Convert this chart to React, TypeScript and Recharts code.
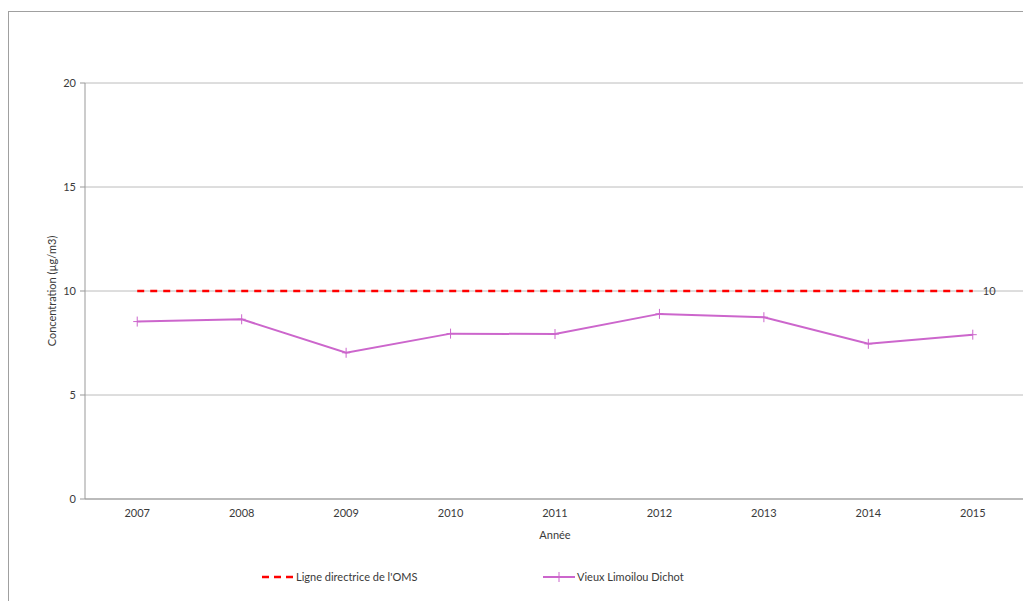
import { LineChart, Line, XAxis, YAxis, CartesianGrid, Legend, LabelList } from 'recharts';

const years = ['2007', '2008', '2009', '2010', '2011', '2012', '2013', '2014', '2015'];
const omsGuideline = [10, 10, 10, 10, 10, 10, 10, 10, 10];
const limoilou = [8.53, 8.64, 7.03, 7.95, 7.93, 8.9, 8.74, 7.46, 7.9];
const yTicks = [0, 5, 10, 15, 20];

// each year sits in the middle of its band; band edges carry the tick marks
const chartData = years.map((year, i) => ({
  year,
  pos: i + 0.5,
  oms: omsGuideline[i],
  limoilou: limoilou[i],
}));
const labelTicks = chartData.map((d) => d.pos);
const edgeTicks = [0, ...chartData.map((d) => d.pos + 0.5)];

const FONT = 'Lato, "Open Sans", sans-serif';
const TEXT = '#3a3a3a';
const PURPLE = '#cc66cc';
const RED = '#ff0000';

const PlusDot = (props: any) => {
  const { cx, cy, index } = props;
  if (cx == null || cy == null) return <g key={index} />;
  return (
    <g key={index}>
      <line x1={cx - 4} y1={cy} x2={cx + 4} y2={cy} stroke={PURPLE} strokeWidth={1} />
      <line x1={cx} y1={cy - 5} x2={cx} y2={cy + 5} stroke={PURPLE} strokeWidth={1} />
    </g>
  );
};

const EmptyTick = () => <g />;

const yearLabel = (v: number) => {
  const d = chartData.find((c) => c.pos === v);
  return d ? d.year : '';
};

const EndLabel = (props: any) => {
  const { x, y, value, index } = props;
  if (index !== chartData.length - 1) return null;
  return (
    <text x={x + 10} y={y} dy={4} fontSize={11} fill={TEXT} fontFamily={FONT}>
      {value}
    </text>
  );
};

const renderLegend = () => (
  <div style={{ display: 'flex', fontFamily: FONT, fontSize: 11, color: TEXT, alignItems: 'center' }}>
    <div style={{ width: 281, display: 'flex', alignItems: 'center' }}>
      <svg width={32} height={10}>
        <line x1={0} y1={5} x2={32} y2={5} stroke={RED} strokeWidth={2.5} strokeDasharray="7 5" />
      </svg>
      <span style={{ marginLeft: 2 }}>Ligne directrice de l'OMS</span>
    </div>
    <div style={{ display: 'flex', alignItems: 'center' }}>
      <svg width={32} height={10}>
        <line x1={0} y1={5} x2={32} y2={5} stroke={PURPLE} strokeWidth={2} />
        <line x1={16} y1={0} x2={16} y2={10} stroke={PURPLE} strokeWidth={1} />
      </svg>
      <span style={{ marginLeft: 2 }}>Vieux Limoilou Dichot</span>
    </div>
  </div>
);

export default function App() {
  return (
    <div style={{ position: 'fixed', left: 0, top: 0, width: 1023, height: 601, overflow: 'hidden', background: '#fff' }}>
      <div style={{ position: 'absolute', left: 8, top: 11, width: 1100, height: 1, background: '#a0a0a0' }} />
      <div style={{ position: 'absolute', left: 8, top: 11, width: 1, height: 700, background: '#a0a0a0' }} />
      <div style={{ position: 'absolute', left: 9, top: 12 }}>
        <LineChart
          width={1030}
          height={600}
          data={chartData}
          margin={{ top: 71, right: 14, bottom: 55, left: 0 }}
        >
          <CartesianGrid vertical={false} stroke="#bcbcbc" strokeWidth={1} />
          <XAxis
            xAxisId="edges"
            type="number"
            dataKey="pos"
            domain={[0, 9]}
            ticks={edgeTicks}
            height={0}
            axisLine={false}
            tickLine={{ stroke: '#999' }}
            tickSize={5}
            tick={EmptyTick}
          />
          <XAxis
            xAxisId="years"
            type="number"
            dataKey="pos"
            domain={[0, 9]}
            ticks={labelTicks}
            tickFormatter={yearLabel}
            height={45}
            axisLine={{ stroke: '#999' }}
            tickLine={false}
            tickSize={0}
            tickMargin={10}
            interval={0}
            tick={{ fontSize: 11, fill: TEXT, fontFamily: FONT }}
            label={{
              value: 'Année',
              position: 'insideBottom',
              offset: 5,
              fontSize: 11,
              fill: TEXT,
              fontFamily: FONT,
            }}
          />
          <YAxis
            domain={[0, 20]}
            ticks={yTicks}
            width={76}
            axisLine={{ stroke: '#999' }}
            tickLine={{ stroke: '#999' }}
            tickSize={5}
            tickMargin={4}
            tick={{ fontSize: 11, fill: TEXT, fontFamily: FONT }}
            label={{
              value: 'Concentration (µg/m3)',
              angle: -90,
              position: 'center',
              dx: 5,
              fontSize: 11,
              fill: TEXT,
              fontFamily: FONT,
            }}
          />
          <Line
            xAxisId="edges"
            dataKey="oms"
            name="Ligne directrice de l'OMS"
            stroke={RED}
            strokeWidth={2.5}
            strokeDasharray="7 6"
            dot={false}
            activeDot={false}
            isAnimationActive={false}
          >
            <LabelList dataKey="oms" content={EndLabel} />
          </Line>
          <Line
            xAxisId="years"
            dataKey="limoilou"
            name="Vieux Limoilou Dichot"
            type="linear"
            stroke={PURPLE}
            strokeWidth={2}
            dot={PlusDot}
            activeDot={false}
            isAnimationActive={false}
          />
          <Legend
            content={renderLegend}
            wrapperStyle={{ position: 'absolute', top: 558, left: 253, width: 500 }}
          />
        </LineChart>
      </div>
    </div>
  );
}
